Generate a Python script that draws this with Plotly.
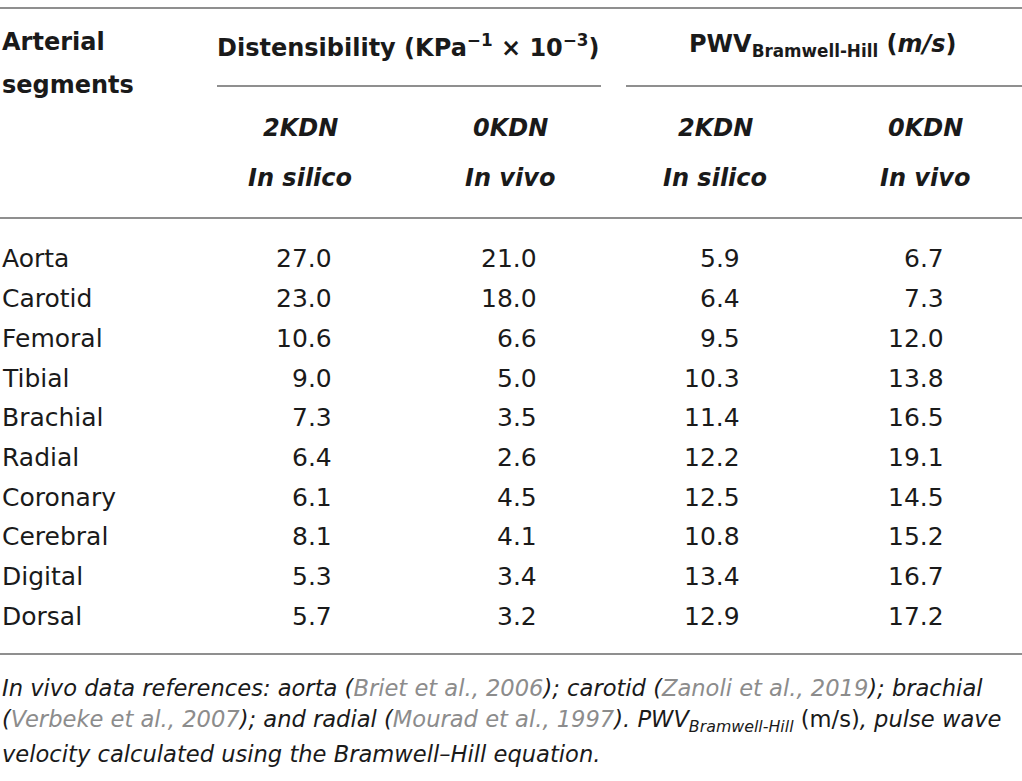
import plotly.graph_objects as go

W, H = 1022, 781

segments = ["Aorta", "Carotid", "Femoral", "Tibial", "Brachial", "Radial",
            "Coronary", "Cerebral", "Digital", "Dorsal"]
dist_2kdn = [27.0, 23.0, 10.6, 9.0, 7.3, 6.4, 6.1, 8.1, 5.3, 5.7]
dist_0kdn = [21.0, 18.0, 6.6, 5.0, 3.5, 2.6, 4.5, 4.1, 3.4, 3.2]
pwv_2kdn = [5.9, 6.4, 9.5, 10.3, 11.4, 12.2, 12.5, 10.8, 13.4, 12.9]
pwv_0kdn = [6.7, 7.3, 12.0, 13.8, 16.5, 19.1, 14.5, 15.2, 16.7, 17.2]

FONT = "DejaVu Sans, Liberation Sans, Arial, sans-serif"
TXT = "#1a1a1a"
GRAY = "#8c8c8c"
LINE = "#8f8f8f"

fig = go.Figure()
ann = []

def px(x):
    return x / W

def py(y):
    return 1 - y / H

def add(text, x, y, xanchor="left", size=25, color=TXT):
    ann.append(dict(text=text, x=px(x), y=py(y), xref="paper", yref="paper",
                    xanchor=xanchor, yanchor="middle", showarrow=False,
                    font=dict(family=FONT, size=size, color=color)))

# Header
add("<b>Arterial</b>", 0, 42, size=24)
add("<b>segments</b>", 0, 85, size=24)
add("<b>Distensibility (KPa<sup>−1</sup> × 10<sup>−3</sup>)</b>", 408, 46, "center", size=24)
add("<b>PWV<sub>Bramwell-Hill</sub> (<i>m/s</i>)</b>", 823, 46, "center", size=24)

col_centers = [300, 510, 715, 925]
sub1 = ["2KDN", "0KDN", "2KDN", "0KDN"]
sub2 = ["In silico", "In vivo", "In silico", "In vivo"]
for cx, a, b in zip(col_centers, sub1, sub2):
    add(f"<b><i>{a}</i></b>", cx, 128, "center", size=24)
    add(f"<b><i>{b}</i></b>", cx, 178, "center", size=24)

# Body
col_right = [334, 539, 742, 946]
row0, dy = 259, 39.7
for i, seg in enumerate(segments):
    y = row0 + i * dy
    add(seg, 0, y)
    for xr, vals in zip(col_right, [dist_2kdn, dist_0kdn, pwv_2kdn, pwv_0kdn]):
        add(f"{vals[i]:.1f}", xr, y, "right")

# Footnote
g = lambda s: f"<span style='color:{GRAY}'>{s}</span>"
foot = [
    f"<i>In vivo data references: aorta ({g('Briet et al., 2006')}); carotid ({g('Zanoli et al., 2019')}); brachial</i>",
    f"<i>({g('Verbeke et al., 2007')}); and radial ({g('Mourad et al., 1997')}). PWV<sub>Bramwell-Hill</sub></i> (m/s)<i>, pulse wave</i>",
    "<i>velocity calculated using the Bramwell–Hill equation.</i>",
]
for i, t in enumerate(foot):
    add(t, 0, 688 + i * 33, size=22.6)

shapes = []
def hline(x0, x1, y, w=2):
    shapes.append(dict(type="line", xref="paper", yref="paper",
                       x0=px(x0), x1=px(x1), y0=py(y), y1=py(y),
                       line=dict(color=LINE, width=w)))

hline(0, W, 8)
hline(217, 601, 86)
hline(626, W, 86)
hline(0, W, 218)
hline(0, W, 654)

fig.update_layout(width=W, height=H, margin=dict(l=0, r=0, t=0, b=0),
                  paper_bgcolor="white", plot_bgcolor="white",
                  xaxis=dict(visible=False), yaxis=dict(visible=False),
                  annotations=ann, shapes=shapes, showlegend=False)

fig.write_html("out.html", config={"displayModeBar": False},
               post_script="document.body.style.margin='0';document.body.style.overflow='hidden';")
